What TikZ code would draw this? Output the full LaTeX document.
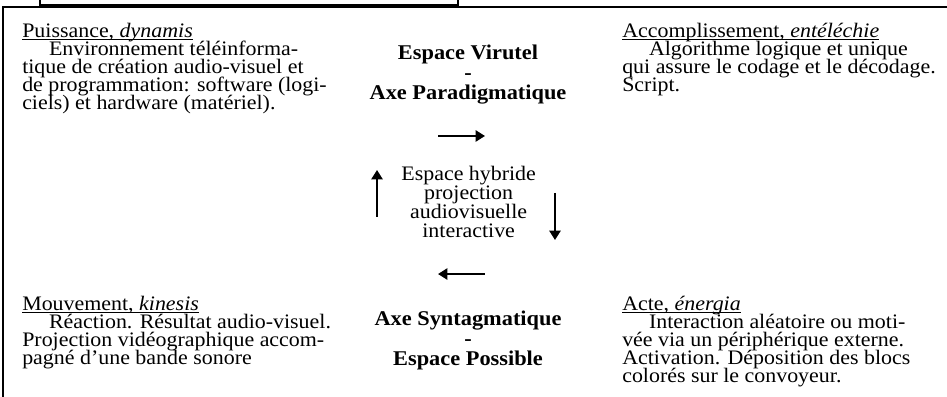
\documentclass[tikz,border=0pt]{standalone}
\usepackage{fontspec}
\setmainfont{Liberation Serif}[FakeStretch=1.065]
\usetikzlibrary{arrows.meta}
\newcommand{\serre}{\lineskiplimit-100pt\relax}
\newcommand{\retrait}{\hspace*{1.3em}}
\newcommand{\souligne}[1]{\setbox0\hbox{#1}\rlap{\rule[-2pt]{\wd0}{0.7pt}}\box0}
\tikzset{
  quartblock/.style={anchor=north west, align=left, inner sep=0pt,
    font=\fontsize{15.5}{13.6}\selectfont\serre},
  axetitre/.style={align=center, inner sep=0pt,
    font=\fontsize{15.8}{15}\selectfont\bfseries\serre},
  cyclearrow/.style={-{Triangle[length=2.5mm,width=3mm]}, line width=1.5pt},
  cadre/.style={line width=1.4pt, line cap=rect}
}
\begin{document}
\begin{tikzpicture}
\useasboundingbox (0cm,0cm) rectangle (25.056cm,-10.504cm);
  % Frames
  \draw[cadre] (1.058cm,0.1cm) -- (1.058cm,-0.132cm) -- (12.118cm,-0.132cm) -- (12.118cm,0.1cm);
  \draw[cadre] (0.079cm,-10.7cm) -- (0.079cm,-0.185cm) -- (25.3cm,-0.185cm);
  %%%%%%%%%%%%%%%% The four blocks
  \node[quartblock] (puissance) at (0.582cm,-0.61cm)
    {\souligne{Puissance, \textit{dynamis}}\\
     \retrait Environnement téléinforma-\\
     tique de création audio-visuel et\\
     de programmation: software (logi-\\
     ciels) et hardware (matériel).};
  \node[quartblock] (accomp) at (16.457cm,-0.61cm)
    {\souligne{Accomplissement, \textit{entéléchie}}\\
     \retrait Algorithme logique et unique\\
     qui assure le codage et le décodage.\\
     Script.};
  \node[quartblock] (mouvement) at (0.582cm,-7.83cm)
    {\souligne{Mouvement, \textit{kinesis}}\\
     \retrait Réaction. Résultat audio-visuel.\\
     Projection vidéographique accom-\\
     pagné d’une bande sonore};
  \node[quartblock] (acte) at (16.457cm,-7.83cm)
    {\souligne{Acte, \textit{énergia}}\\
     \retrait Interaction aléatoire ou moti-\\
     vée via un périphérique externe.\\
     Activation. Déposition des blocs\\
     colorés sur le convoyeur.};
  %%%%%%%%%%%%%%%% Axes
  \node[axetitre] (virtuel) at (12.383cm,-1.98cm)
    {Espace Virutel\\ -\\ Axe Paradigmatique};
  \node[axetitre] (possible) at (12.383cm,-9.0cm)
    {Axe Syntagmatique\\ -\\ Espace Possible};
  \node[align=center, inner sep=0pt,
    font=\fontsize{15.5}{14.3}\selectfont\serre]
    (hybride) at (12.40cm,-5.345cm)
    {Espace hybride\\ projection\\ audiovisuelle\\ interactive};
  % Arrow ends
  \coordinate (hautA) at (11.589cm,-3.598cm);
  \coordinate (hautB) at (12.832cm,-3.598cm);
  \coordinate (droitA) at (14.684cm,-5.106cm);
  \coordinate (droitB) at (14.684cm,-6.350cm);
  \coordinate (basA) at (12.832cm,-7.250cm);
  \coordinate (basB) at (11.589cm,-7.250cm);
  \coordinate (gaucheA) at (9.975cm,-5.741cm);
  \coordinate (gaucheB) at (9.975cm,-4.498cm);
  % Draw arrows
  \draw[cyclearrow] (hautA) -- (hautB);
  \draw[cyclearrow] (droitA) -- (droitB);
  \draw[cyclearrow] (basA) -- (basB);
  \draw[cyclearrow] (gaucheA) -- (gaucheB);
\end{tikzpicture}
\end{document}
